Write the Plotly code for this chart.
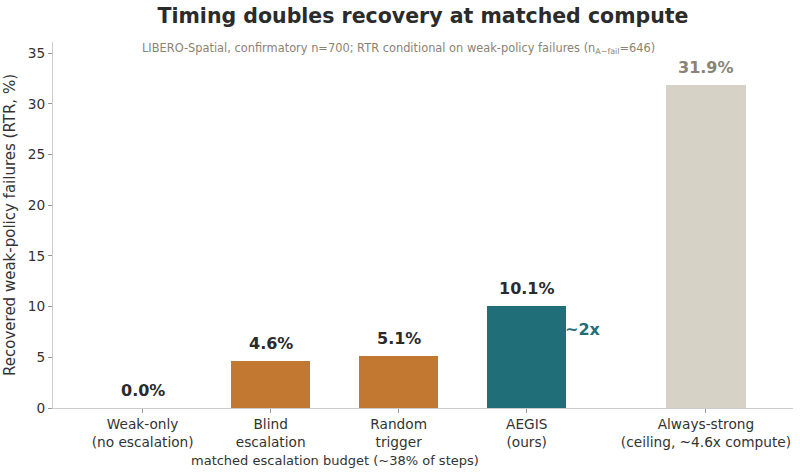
import plotly.graph_objects as go

categories = ["Weak-only<br>(no escalation)", "Blind<br>escalation", "Random<br>trigger",
              "AEGIS<br>(ours)", "Always-strong<br>(ceiling, ~4.6x compute)"]
positions = [0, 1, 2, 3, 4.4]
values = [0.0, 4.6, 5.1, 10.1, 31.9]
colors = ["#C27830", "#C27830", "#C27830", "#1F6E78", "#D6D2C6"]
label_colors = ["#2b2b2b", "#2b2b2b", "#2b2b2b", "#2b2b2b", "#8A8374"]
yticks = [0, 5, 10, 15, 20, 25, 30, 35]

FONT = "DejaVu Sans"

fig = go.Figure()
fig.add_trace(go.Bar(x=positions, y=values, width=0.62, marker=dict(color=colors, line=dict(width=0)),
                     hoverinfo="skip", showlegend=False))

for x, v, c in zip(positions, values, label_colors):
    fig.add_annotation(x=x, y=v, text=f"<b>{v:.1f}%</b>", showarrow=False, yanchor="bottom",
                       yshift=6, font=dict(family=FONT, size=16, color=c))

fig.add_annotation(x=3 + 0.31, y=7.7, text="<b>~2x</b>", showarrow=False, xanchor="left",
                   xshift=-3, yanchor="middle", font=dict(family=FONT, size=16, color="#1F6E78"))

fig.add_annotation(x=1.5, xref="x", y=0, yref="paper", yshift=-52, text="matched escalation budget (~38% of steps)",
                   showarrow=False, yanchor="middle", font=dict(family=FONT, size=13, color="#333333"))

fig.add_annotation(x=0, xref="x", xanchor="left", xshift=-3, y=35.5, yref="y",
                   text="LIBERO-Spatial, confirmatory n=700; RTR conditional on weak-policy failures (n<sub>A−fail</sub>=646)",
                   showarrow=False, yanchor="middle", font=dict(family=FONT, size=11.4, color="#8A8374"))

fig.update_layout(
    width=800, height=474,
    margin=dict(l=53, r=7, t=42, b=66),
    paper_bgcolor="white", plot_bgcolor="white",
    font=dict(family=FONT, color="#333333"),
    title=dict(text="<b>Timing doubles recovery at matched compute</b>", x=(53 + 793) / 2 / 800,
               xanchor="center", y=0.967, yanchor="middle",
               font=dict(family=FONT, size=20.5, color="#2b2b2b")),
    bargap=0,
)
fig.update_xaxes(range=[-0.70, 5.08], tickmode="array", tickvals=positions, ticktext=categories,
                 showline=True, linecolor="#cccccc", linewidth=1, ticks="outside", ticklen=4,
                 tickcolor="#999999", showgrid=False, zeroline=False,
                 tickfont=dict(family=FONT, size=13.7, color="#333333"))
fig.update_yaxes(range=[0, 36.1], tickmode="array", tickvals=yticks,
                 showline=True, linecolor="#cccccc", linewidth=1, ticks="outside", ticklen=4,
                 tickcolor="#999999", showgrid=False, zeroline=False,
                 title=dict(text="Recovered weak-policy failures (RTR, %)", standoff=8,
                            font=dict(family=FONT, size=15, color="#333333")),
                 tickfont=dict(family=FONT, size=13.7, color="#333333"))

fig.write_html("out.html")
